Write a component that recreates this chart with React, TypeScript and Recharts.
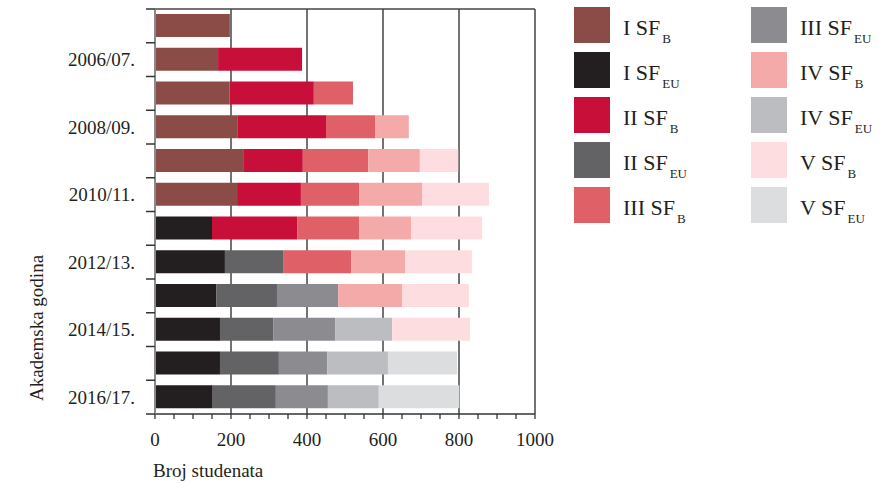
import { BarChart, Bar, XAxis, YAxis, CartesianGrid } from "recharts"

const years = [
  "2005/06.", "2006/07.", "2007/08.", "2008/09.", "2009/10.", "2010/11.",
  "2011/12.", "2012/13.", "2013/14.", "2014/15.", "2015/16.", "2016/17.",
]

const iB = [197, 166, 196, 218, 234, 216, 0, 0, 0, 0, 0, 0]
const iEU = [0, 0, 0, 0, 0, 0, 150, 184, 161, 171, 171, 150]
const iiB = [0, 221, 222, 232, 155, 168, 224, 0, 0, 0, 0, 0]
const iiEU = [0, 0, 0, 0, 0, 0, 0, 153, 160, 140, 155, 168]
const iiiB = [0, 0, 103, 129, 172, 153, 163, 179, 0, 0, 0, 0]
const iiiEU = [0, 0, 0, 0, 0, 0, 0, 0, 161, 163, 127, 137]
const ivB = [0, 0, 0, 89, 136, 166, 137, 142, 168, 0, 0, 0]
const ivEU = [0, 0, 0, 0, 0, 0, 0, 0, 0, 150, 160, 134]
const vB = [0, 0, 0, 0, 101, 176, 187, 176, 176, 205, 0, 0]
const vEU = [0, 0, 0, 0, 0, 0, 0, 0, 0, 0, 182, 212]

const xTicks = [0, 50, 100, 150, 200, 250, 300, 350, 400, 450, 500, 550, 600, 650, 700, 750, 800, 850, 900, 950, 1000]
const gridValues = [200, 400, 600, 800, 1000]
const X_MAX = 1000

const series = [
  { key: "iB", roman: "I", sub: "B", color: "#8b4b46", values: iB },
  { key: "iEU", roman: "I", sub: "EU", color: "#231f20", values: iEU },
  { key: "iiB", roman: "II", sub: "B", color: "#c80f3a", values: iiB },
  { key: "iiEU", roman: "II", sub: "EU", color: "#636365", values: iiEU },
  { key: "iiiB", roman: "III", sub: "B", color: "#e06068", values: iiiB },
  { key: "iiiEU", roman: "III", sub: "EU", color: "#8c8c90", values: iiiEU },
  { key: "ivB", roman: "IV", sub: "B", color: "#f5aaaa", values: ivB },
  { key: "ivEU", roman: "IV", sub: "EU", color: "#bcbdc0", values: ivEU },
  { key: "vB", roman: "V", sub: "B", color: "#fedde0", values: vB },
  { key: "vEU", roman: "V", sub: "EU", color: "#dcdddf", values: vEU },
]

const data = years.map((year, i) => {
  const row: Record<string, string | number> = { year }
  series.forEach((s) => (row[s.key] = s.values[i]))
  return row
})

const FONT = "'Liberation Serif', serif"
const INK = "#231f20"
const TOP = 9
const BOTTOM = 414
const HALF_BAND = (BOTTOM - TOP) / years.length / 2

const YTick = (props: any) => {
  const { x, y, payload, index } = props
  return (
    <g>
      <line x1={x - 9} x2={x} y1={y + HALF_BAND} y2={y + HALF_BAND} stroke="#333" strokeWidth={1.5} />
      {index === 0 && (
        <line x1={x - 9} x2={x} y1={y - HALF_BAND} y2={y - HALF_BAND} stroke="#333" strokeWidth={1.5} />
      )}
      {index % 2 === 1 && (
        <text x={x - 20} y={y} dy="0.35em" textAnchor="end" fontSize={19} fontFamily={FONT} fill={INK}>
          {payload.value}
        </text>
      )}
    </g>
  )
}

const XTick = (props: any) => {
  const { x, y, payload } = props
  const major = payload.value % 200 === 0
  return (
    <g>
      <line x1={x} x2={x} y1={y} y2={y + 5} stroke="#333" strokeWidth={1.3} />
      {major && (
        <text x={x} y={y + 32} textAnchor="middle" fontSize={19} fontFamily={FONT} fill={INK}>
          {payload.value}
        </text>
      )}
    </g>
  )
}

function Legend() {
  return (
    <div
      style={{
        position: "absolute",
        left: 574,
        top: 7,
        display: "grid",
        gridTemplateRows: "repeat(5, 45px)",
        gridTemplateColumns: "177px 140px",
        gridAutoFlow: "column",
        fontFamily: FONT,
        color: INK,
      }}
    >
      {series.map((s) => (
        <div key={s.key} style={{ position: "relative", height: 45 }}>
          <div style={{ position: "absolute", left: 0, top: 0, width: 36, height: 36, background: s.color }} />
          <div style={{ position: "absolute", left: 49, top: 10, fontSize: 22, lineHeight: "22px", whiteSpace: "nowrap" }}>
            {s.roman} SF
            <span style={{ fontSize: 13, position: "relative", top: 8, marginLeft: 2 }}>{s.sub}</span>
          </div>
        </div>
      ))}
    </div>
  )
}

export default function App() {
  return (
    <div style={{ position: "absolute", left: 0, top: 0, width: 888, height: 483, background: "#fff" }}>
      <BarChart
        width={888}
        height={483}
        data={data}
        layout="vertical"
        barSize={23}
        margin={{ top: TOP, right: 353, bottom: 0, left: 0 }}
      >
        <CartesianGrid
          stroke="#444"
          strokeWidth={1.5}
          horizontalCoordinatesGenerator={({ offset }: any) => [offset.top]}
          verticalCoordinatesGenerator={({ offset }: any) =>
            gridValues.map((v) => offset.left + (v / X_MAX) * offset.width)
          }
        />
        <XAxis
          type="number"
          domain={[0, X_MAX]}
          ticks={xTicks}
          interval={0}
          height={483 - BOTTOM}
          tickSize={0}
          tickMargin={0}
          tickLine={false}
          tick={<XTick />}
          axisLine={{ stroke: "#333", strokeWidth: 1.5 }}
          label={{
            value: "Broj studenata",
            content: (p: any) => (
              <text x={153} y={477} textAnchor="start" fontSize={19} fontFamily={FONT} fill={INK}>
                {p.value}
              </text>
            ),
          }}
        />
        <YAxis
          type="category"
          dataKey="year"
          width={155}
          interval={0}
          tickSize={0}
          tickMargin={0}
          tickLine={false}
          tick={<YTick />}
          axisLine={{ stroke: "#8a8a8a", strokeWidth: 2 }}
          label={{
            value: "Akademska godina",
            content: (p: any) => (
              <text
                x={43}
                y={328}
                transform="rotate(-90 43 328)"
                textAnchor="middle"
                fontSize={19}
                fontFamily={FONT}
                fill={INK}
              >
                {p.value}
              </text>
            ),
          }}
        />
        {series.map((s) => (
          <Bar key={s.key} dataKey={s.key} stackId="a" fill={s.color} isAnimationActive={false} />
        ))}
      </BarChart>
      <Legend />
    </div>
  )
}
